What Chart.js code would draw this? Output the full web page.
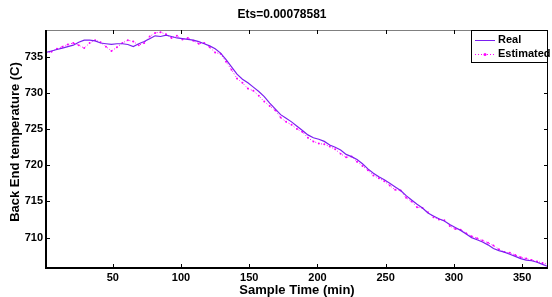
<!DOCTYPE html>
<html>
<head>
<meta charset="utf-8">
<script src="https://cdn.jsdelivr.net/npm/chart.js@4/dist/chart.umd.min.js"></script>
<style>
html,body{margin:0;padding:0;background:#fff;}
#wrap{width:552px;height:297px;position:relative;}
</style>
</head>
<body>
<div id="wrap"><canvas id="c" width="552" height="297"></canvas></div>
<script>
const chartTitle = "Ets=0.00078581";
const xAxisTitle = "Sample Time (min)";
const yAxisTitle = "Back End temperature (C)";
const seriesNames = ["Real", "Estimated"];

const sampleTimes = [1,5,9,13,17,21,25,29,33,37,41,45,49,53,57,61,65,69,73,77,81,85,89,93,97,101,105,109,113,117,121,125,129,133,137,141,145,149,153,157,161,165,169,173,177,181,185,189,193,197,201,205,209,213,217,221,225,229,233,237,241,245,249,253,257,261,265,269,273,277,281,285,289,293,297,301,305,309,313,317,321,325,329,333,337,341,345,349,353,357,361,365,369];

const realTemp = [735.6,735.8,736.0,736.2,736.4,736.6,737.0,737.3,737.3,737.2,736.9,736.8,736.7,736.8,736.8,736.7,736.4,736.8,737.1,737.5,737.9,737.8,738.0,737.8,737.6,737.5,737.4,737.3,737.1,736.8,736.5,736.1,735.5,734.6,733.6,732.6,731.9,731.4,730.8,730.2,729.5,728.6,727.8,727.0,726.5,726.0,725.4,724.8,724.2,723.8,723.6,723.3,722.8,722.5,722.1,721.5,721.2,720.8,720.2,719.5,718.9,718.4,718.0,717.5,717.0,716.5,715.8,715.2,714.6,714.1,713.4,713.0,712.6,712.3,711.8,711.4,711.0,710.5,710.0,709.7,709.4,709.0,708.5,708.2,708.0,707.7,707.4,707.1,706.9,706.8,706.6,706.3,706.0];

const estimatedTemp = [735.5,735.7,736.1,736.4,736.7,736.9,736.6,736.2,736.9,737.3,737.0,736.4,735.8,736.3,736.9,737.3,737.1,736.6,736.9,737.8,738.3,738.4,738.1,737.6,737.9,737.4,737.6,737.2,736.8,736.9,736.3,735.6,735.4,734.3,733.2,732.0,731.4,730.6,730.3,729.6,728.8,728.2,727.6,726.6,726.0,725.6,725.0,724.6,723.8,723.3,723.0,722.9,722.6,722.2,721.6,721.1,721.2,720.5,719.9,719.3,718.6,718.2,717.8,717.2,716.6,716.5,715.5,715.0,714.2,714.1,713.5,712.8,712.5,712.4,711.6,711.2,711.1,710.6,710.2,709.9,709.6,709.3,708.9,708.4,708.0,707.9,707.6,707.3,707.1,706.9,706.7,706.5,706.3];

const xTicks = [50,100,150,200,250,300,350];
const yTicks = [710,715,720,725,730,735];

const REAL_COLOR = '#7a1ff0';
const EST_COLOR = '#ff00ff';

const decor = {
  id: 'decor',
  afterDraw(chart) {
    const ctx = chart.ctx;
    const a = chart.chartArea;
    const xs = chart.scales.x, ys = chart.scales.y;
    ctx.save();
    // axes box
    ctx.strokeStyle = '#808080';
    ctx.lineWidth = 1;
    ctx.beginPath(); ctx.moveTo(a.left, a.top + 0.5); ctx.lineTo(a.right, a.top + 0.5); ctx.stroke();
    ctx.strokeStyle = '#000';
    ctx.beginPath(); ctx.moveTo(a.right - 0.5, a.top); ctx.lineTo(a.right - 0.5, a.bottom); ctx.stroke();
    ctx.lineWidth = 2;
    ctx.beginPath(); ctx.moveTo(a.left, a.top); ctx.lineTo(a.left, a.bottom); ctx.lineTo(a.right, a.bottom); ctx.stroke();
    // inward ticks
    ctx.lineWidth = 1;
    const tl = 4;
    xTicks.forEach(v => {
      const px = Math.round(xs.getPixelForValue(v)) + 0.5;
      ctx.beginPath(); ctx.moveTo(px, a.bottom); ctx.lineTo(px, a.bottom - tl); ctx.stroke();
      ctx.beginPath(); ctx.moveTo(px, a.top); ctx.lineTo(px, a.top + tl); ctx.stroke();
    });
    yTicks.forEach(v => {
      const py = Math.round(ys.getPixelForValue(v)) + 0.5;
      ctx.beginPath(); ctx.moveTo(a.left, py); ctx.lineTo(a.left + tl, py); ctx.stroke();
      ctx.beginPath(); ctx.moveTo(a.right, py); ctx.lineTo(a.right - tl, py); ctx.stroke();
    });
    // titles
    ctx.fillStyle = '#000';
    ctx.textAlign = 'center';
    ctx.textBaseline = 'middle';
    ctx.font = 'bold 12px "Liberation Sans", Arial, sans-serif';
    ctx.fillText(chartTitle, 282, 15);
    ctx.font = 'bold 13px "Liberation Sans", Arial, sans-serif';
    ctx.fillText(xAxisTitle, (a.left + a.right) / 2, 290);
    ctx.save();
    ctx.translate(15, 142);
    ctx.rotate(-Math.PI / 2);
    ctx.fillText(yAxisTitle, 0, 0);
    ctx.restore();
    // legend
    const lx = 471, ly = 30, lw = a.right - lx, lh = 33;
    ctx.fillStyle = '#fff';
    ctx.fillRect(lx, ly, lw, lh);
    ctx.strokeStyle = '#000';
    ctx.lineWidth = 1;
    ctx.strokeRect(lx + 0.5, ly + 0.5, lw - 1, lh - 1);
    ctx.font = 'bold 11px "Liberation Sans", Arial, sans-serif';
    ctx.textAlign = 'left';
    ctx.fillStyle = '#000';
    // Real
    ctx.strokeStyle = REAL_COLOR;
    ctx.beginPath(); ctx.moveTo(475, 40.5); ctx.lineTo(495, 40.5); ctx.stroke();
    ctx.fillText(seriesNames[0], 498, 40);
    // Estimated
    ctx.strokeStyle = EST_COLOR;
    ctx.setLineDash([1, 2]);
    ctx.beginPath(); ctx.moveTo(475, 54.5); ctx.lineTo(495, 54.5); ctx.stroke();
    ctx.setLineDash([]);
    ctx.fillStyle = EST_COLOR;
    ctx.beginPath(); ctx.arc(485, 54.5, 1.5, 0, Math.PI * 2); ctx.fill();
    ctx.fillStyle = '#000';
    ctx.fillText(seriesNames[1], 498, 54);
    ctx.restore();
  }
};

const tickFont = { family: '"Liberation Sans", Arial, sans-serif', size: 11, weight: 'bold' };

new Chart(document.getElementById('c'), {
  type: 'line',
  data: {
    datasets: [
      {
        label: seriesNames[1],
        data: sampleTimes.map((t, i) => ({ x: t, y: estimatedTemp[i] })),
        borderColor: EST_COLOR,
        backgroundColor: EST_COLOR,
        borderWidth: 1,
        borderDash: [1, 2],
        pointRadius: 1,
        pointBorderWidth: 0,
        tension: 0,
        order: 2
      },
      {
        label: seriesNames[0],
        data: sampleTimes.map((t, i) => ({ x: t, y: realTemp[i] })),
        borderColor: REAL_COLOR,
        borderWidth: 1.2,
        pointRadius: 0,
        tension: 0,
        order: 1
      }
    ]
  },
  options: {
    responsive: false,
    animation: false,
    devicePixelRatio: 1,
    layout: { padding: { left: 0, right: 1, top: 30, bottom: 0 } },
    plugins: { legend: { display: false }, title: { display: false }, tooltip: { enabled: false } },
    scales: {
      x: {
        type: 'linear', min: 1, max: 369,
        grid: { display: false, drawTicks: false },
        border: { display: false },
        afterBuildTicks: s => { s.ticks = xTicks.map(v => ({ value: v })); },
        afterFit: s => { s.height = 29; },
        ticks: { font: tickFont, color: '#000', padding: 3, maxRotation: 0, autoSkip: false }
      },
      y: {
        type: 'linear', min: 705.8, max: 738.7,
        grid: { display: false, drawTicks: false },
        border: { display: false },
        afterBuildTicks: s => { s.ticks = yTicks.map(v => ({ value: v })); },
        afterFit: s => { s.width = 46; },
        ticks: { font: tickFont, color: '#000', padding: 3, autoSkip: false }
      }
    }
  },
  plugins: [decor]
});
</script>
</body>
</html>
